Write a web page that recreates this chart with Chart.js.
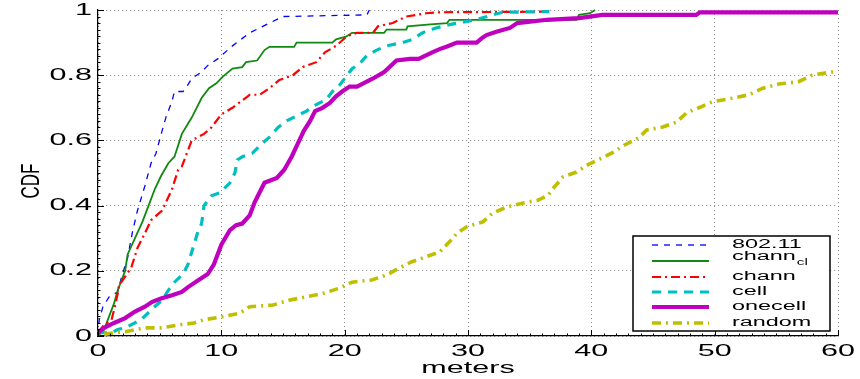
<!DOCTYPE html>
<html><head><meta charset="utf-8">
<script src="https://cdn.jsdelivr.net/npm/chart.js@4.4.1/dist/chart.umd.min.js"></script>
<style>html,body{margin:0;padding:0;background:#fff;overflow:hidden}canvas{display:block}</style>
</head><body>
<canvas id="c" width="860" height="379"></canvas>
<script>
// ---------- data ----------
const legendMain = ['802.11', 'chann', 'chann', 'cell', 'onecell', 'random'];
const legendSub  = ['', 'cl', '', '', '', ''];
const xTicks = [0, 10, 20, 30, 40, 50, 60];
const yTicks = [0, 0.2, 0.4, 0.6, 0.8, 1];
const xTitle = 'meters';
const yTitle = 'CDF';

const wifiX = [0, 0.1, 0.4, 0.9, 1.6, 1.9, 2.4, 2.8, 3.2, 3.8, 4.3, 4.7, 5.2, 5.5, 6.0, 6.2, 6.9, 7.2, 7.6, 8.4, 8.9, 9.7, 10.9, 12.3, 13.9, 15.0, 21.8, 22.0];
const wifiY = [0, 0.05, 0.09, 0.12, 0.135, 0.18, 0.24, 0.32, 0.385, 0.46, 0.53, 0.56, 0.63, 0.67, 0.72, 0.75, 0.75, 0.765, 0.79, 0.81, 0.83, 0.85, 0.89, 0.93, 0.96, 0.98, 0.985, 1.0];

const channClX = [0, 0.5, 0.9, 1.3, 1.6, 2.2, 2.4, 3.0, 3.6, 4.2, 4.6, 5.1, 5.7, 6.2, 6.8, 7.6, 8.4, 9.0, 9.6, 10.1, 10.9, 11.7, 12.0, 12.9, 13.5, 13.9, 15.9, 16.1, 19.0, 19.3, 20.1, 20.6, 23.2, 23.4, 25.0, 25.1, 26.7, 28.3, 28.5, 38.8, 39.0, 39.9, 40.3];
const channClY = [0, 0.02, 0.06, 0.10, 0.14, 0.20, 0.25, 0.30, 0.35, 0.41, 0.45, 0.49, 0.53, 0.55, 0.62, 0.67, 0.73, 0.76, 0.775, 0.795, 0.82, 0.825, 0.84, 0.845, 0.877, 0.887, 0.887, 0.90, 0.90, 0.91, 0.918, 0.93, 0.93, 0.94, 0.94, 0.95, 0.955, 0.96, 0.97, 0.97, 0.985, 0.99, 1.0];

const channX = [0, 0.4, 1.1, 1.3, 1.6, 1.7, 2.7, 3.2, 3.8, 4.3, 5.2, 6.0, 6.5, 6.8, 7.6, 8.6, 9.2, 10.0, 10.9, 12.3, 13.1, 13.9, 14.7, 15.8, 16.6, 17.7, 18.4, 19.3, 20.2, 21.0, 22.3, 22.7, 23.9, 25.0, 26.6, 27.7, 36.6];
const channY = [0.01, 0.03, 0.05, 0.08, 0.13, 0.155, 0.21, 0.27, 0.315, 0.355, 0.385, 0.45, 0.51, 0.52, 0.60, 0.62, 0.64, 0.68, 0.70, 0.74, 0.74, 0.76, 0.785, 0.80, 0.825, 0.84, 0.87, 0.89, 0.92, 0.93, 0.93, 0.95, 0.96, 0.98, 0.99, 0.993, 0.995];

const cellX = [0, 1.1, 1.6, 2.2, 3.5, 4.3, 5.2, 5.7, 6.2, 6.9, 7.3, 7.7, 8.1, 8.4, 8.6, 9.2, 9.9, 10.7, 11.1, 11.3, 11.7, 12.5, 13.3, 13.9, 14.6, 15.3, 16.9, 17.7, 18.5, 19.0, 19.6, 20.1, 20.6, 21.2, 21.8, 22.6, 23.4, 24.7, 25.5, 26.3, 27.4, 28.5, 29.9, 30.9, 32.0, 32.8, 36.6];
const cellY = [0.01, 0.01, 0.02, 0.025, 0.05, 0.08, 0.11, 0.14, 0.165, 0.19, 0.22, 0.27, 0.32, 0.345, 0.40, 0.43, 0.44, 0.47, 0.50, 0.54, 0.55, 0.56, 0.59, 0.61, 0.64, 0.66, 0.69, 0.71, 0.725, 0.75, 0.77, 0.795, 0.82, 0.835, 0.86, 0.877, 0.89, 0.90, 0.91, 0.93, 0.945, 0.955, 0.965, 0.973, 0.985, 0.993, 0.995];

const onecellX = [0, 0.5, 1.3, 2.2, 3.0, 3.8, 4.4, 5.1, 6.0, 6.8, 7.3, 8.1, 8.9, 9.4, 10.0, 10.7, 11.2, 11.7, 12.3, 12.7, 13.1, 13.5, 14.5, 15.1, 15.7, 16.2, 16.7, 17.2, 17.6, 18.2, 18.8, 19.3, 19.8, 20.4, 21.0, 22.3, 23.2, 24.2, 25.3, 26.0, 27.1, 27.7, 28.3, 29.1, 30.7, 31.1, 31.5, 32.3, 33.4, 34.0, 36.4, 39.0, 40.9, 48.5, 48.8, 60];
const onecellY = [0.01, 0.025, 0.04, 0.055, 0.075, 0.09, 0.105, 0.115, 0.125, 0.135, 0.15, 0.17, 0.19, 0.22, 0.28, 0.325, 0.34, 0.345, 0.37, 0.41, 0.44, 0.47, 0.485, 0.51, 0.55, 0.59, 0.63, 0.66, 0.69, 0.70, 0.715, 0.735, 0.75, 0.765, 0.765, 0.79, 0.81, 0.845, 0.85, 0.85, 0.87, 0.88, 0.888, 0.90, 0.90, 0.913, 0.923, 0.933, 0.945, 0.96, 0.97, 0.975, 0.985, 0.985, 0.993, 0.993];

const randomX = [0.5, 1.3, 2.2, 3.8, 5.1, 6.8, 7.8, 8.6, 9.9, 11.5, 12.3, 14.2, 15.5, 16.9, 18.2, 19.6, 20.6, 22.2, 23.4, 24.4, 25.4, 26.6, 27.7, 28.4, 29.1, 29.9, 31.2, 32.0, 33.1, 34.5, 35.7, 36.5, 37.0, 37.7, 38.8, 39.7, 40.8, 41.8, 42.7, 43.8, 44.5, 45.8, 46.9, 47.7, 48.9, 49.8, 51.5, 52.8, 53.9, 55.2, 56.8, 57.9, 59.5, 60];
const randomY = [0.005, 0.01, 0.013, 0.025, 0.025, 0.035, 0.04, 0.05, 0.058, 0.07, 0.09, 0.095, 0.11, 0.12, 0.13, 0.147, 0.165, 0.172, 0.187, 0.208, 0.227, 0.243, 0.258, 0.285, 0.315, 0.335, 0.35, 0.377, 0.395, 0.408, 0.417, 0.432, 0.457, 0.488, 0.503, 0.525, 0.545, 0.564, 0.586, 0.607, 0.632, 0.641, 0.656, 0.684, 0.703, 0.718, 0.73, 0.74, 0.76, 0.773, 0.78, 0.80, 0.81, 0.81];

// ---------- styles ----------
const styles = [
  {color: '#0000ff', width: 1.3, dash: [6, 6]},
  {color: '#108a10', width: 1.8, dash: []},
  {color: '#ff0000', width: 2.2, dash: [9, 4, 2, 4]},
  {color: '#00bfbf', width: 3.2, dash: [9, 7]},
  {color: '#bf00bf', width: 4.2, dash: []},
  {color: '#bfbf00', width: 3.6, dash: [9, 5, 2, 5]}
];
const seriesX = [wifiX, channClX, channX, cellX, onecellX, randomX];
const seriesY = [wifiY, channClY, channY, cellY, onecellY, randomY];

function pts(xs, ys) { return xs.map((x, i) => ({x: x, y: ys[i]})); }

const FONT = '"Liberation Sans", Arial, Helvetica, sans-serif';
const KX = 1.85;

function stretchText(ctx, text, x, y, size, align, k) {
  ctx.save();
  ctx.translate(x, y);
  ctx.scale(k, 1);
  ctx.font = size + 'px ' + FONT;
  ctx.fillStyle = '#000';
  ctx.textAlign = align;
  ctx.textBaseline = 'middle';
  ctx.fillText(text, 0, 0);
  ctx.restore();
}

const decorPlugin = {
  id: 'decor',
  afterDatasetsDraw(chart) {
    const ctx = chart.ctx;
    const xs = chart.scales.x, ys = chart.scales.y;
    const a = chart.chartArea;
    ctx.save();
    ctx.strokeStyle = '#000';
    ctx.lineWidth = 1;
    // minor and major ticks, pointing inward
    for (let v = 0; v <= 60.001; v += 1) {
      const px = Math.round(xs.getPixelForValue(v)) + 0.5;
      const major = Math.abs(v % 10) < 1e-6;
      ctx.beginPath();
      ctx.moveTo(px, a.bottom);
      ctx.lineTo(px, a.bottom - (major ? 6 : 2.5));
      ctx.stroke();
    }
    for (let i = 0; i <= 50; i++) {
      const v = i * 0.02;
      const py = Math.round(ys.getPixelForValue(v)) + 0.5;
      const major = i % 10 === 0;
      ctx.beginPath();
      ctx.moveTo(a.left, py);
      ctx.lineTo(a.left + (major ? 6 : 2.5), py);
      ctx.stroke();
    }
    ctx.restore();

    // tick labels
    xTicks.forEach(v => {
      stretchText(ctx, String(v), xs.getPixelForValue(v), a.bottom + 15, 16.5, 'center', KX);
    });
    yTicks.forEach(v => {
      stretchText(ctx, String(v), a.left - 6, ys.getPixelForValue(v), 16.5, 'right', KX);
    });
    // axis titles
    stretchText(ctx, xTitle, (a.left + a.right) / 2, a.bottom + 32, 16.5, 'center', KX);
    ctx.save();
    ctx.translate(32, (a.top + a.bottom) / 2 + 8);
    ctx.rotate(-Math.PI / 2);
    ctx.scale(1, 1.5);
    ctx.font = '17px ' + FONT;
    ctx.fillStyle = '#000';
    ctx.textAlign = 'center';
    ctx.textBaseline = 'middle';
    ctx.fillText(yTitle, 0, 0);
    ctx.restore();

    // legend
    const bx = 633, by = 236, bw = 197, bh = 95;
    ctx.save();
    ctx.fillStyle = '#fff';
    ctx.fillRect(bx, by, bw, bh);
    ctx.strokeStyle = '#000';
    ctx.lineWidth = 1.5;
    ctx.strokeRect(bx, by, bw, bh);
    ctx.restore();
    const rowY = [245, 261, 277, 292, 307, 323];
    chart.data.datasets.forEach((ds, i) => {
      const y = rowY[i];
      ctx.save();
      ctx.strokeStyle = ds.borderColor;
      ctx.lineWidth = ds.borderWidth;
      ctx.setLineDash(ds.borderDash || []);
      ctx.beginPath();
      ctx.moveTo(652, y);
      ctx.lineTo(709, y);
      ctx.stroke();
      ctx.restore();
      if (legendSub[i]) {
        stretchText(ctx, legendMain[i], 732, y - 4, 12, 'left', 1.95);
        ctx.save();
        ctx.font = '12px ' + FONT;
        const w = ctx.measureText(legendMain[i]).width * 1.95;
        ctx.restore();
        stretchText(ctx, legendSub[i], 732 + w + 1, y + 2, 9, 'left', 1.7);
      } else {
        stretchText(ctx, legendMain[i], 732, y, 12, 'left', 1.95);
      }
    });
  }
};

const datasets = legendMain.map((name, i) => ({
  label: name + legendSub[i],
  data: pts(seriesX[i], seriesY[i]),
  borderColor: styles[i].color,
  borderWidth: styles[i].width,
  borderDash: styles[i].dash,
  pointRadius: 0,
  fill: false,
  tension: 0,
  clip: false,
  order: legendMain.length - i
}));

new Chart(document.getElementById('c'), {
  type: 'line',
  data: {datasets},
  options: {
    responsive: false,
    animation: false,
    events: [],
    layout: {padding: {left: 98, right: 22, top: 10, bottom: 43}},
    plugins: {legend: {display: false}, tooltip: {enabled: false}},
    scales: {
      x: {
        type: 'linear', min: 0, max: 60,
        ticks: {display: false, stepSize: 10},
        grid: {color: '#888', lineWidth: 1, drawTicks: false},
        border: {display: true, color: '#000', width: 1.2, dash: [1, 3]},
        afterFit(s) { s.height = 0; }
      },
      y: {
        type: 'linear', min: 0, max: 1,
        ticks: {display: false, stepSize: 0.2},
        grid: {color: '#888', lineWidth: 1, drawTicks: false},
        border: {display: true, color: '#000', width: 1.2, dash: [1, 3]},
        afterFit(s) { s.width = 0; }
      }
    }
  },
  plugins: [decorPlugin]
});
</script>
</body></html>
